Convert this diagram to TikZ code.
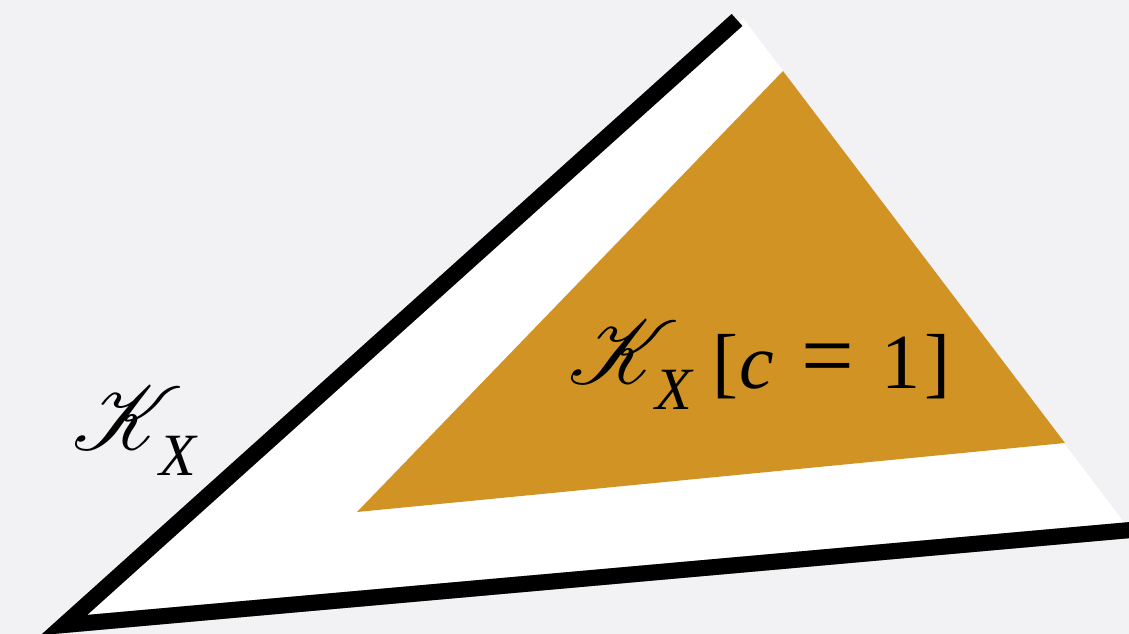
\documentclass[tikz,border=0pt]{standalone}
\usepackage{fontspec}
\setmainfont{Liberation Serif}
\usepackage{graphicx}
\usepackage{mathrsfs}
\definecolor{bgcol}{HTML}{F2F2F4}
\definecolor{ochre}{HTML}{D19424}
\newcommand{\bigK}{\scalebox{9}{$\mathscr{K}$}}
\tikzset{
  glyph/.style={inner sep=0pt, outer sep=0pt, anchor=base, text=black},
  bigg/.style={glyph, font=\fontsize{78}{78}\selectfont},
  subg/.style={glyph, font=\fontsize{60}{60}\selectfont\itshape},
  edge/.style={line width=16pt, black, line join=miter, line cap=butt},
}
\begin{document}
\begin{tikzpicture}[x=1pt,y=-1pt]
\useasboundingbox (0,0) rectangle (1129,634);
\clip (0,0) rectangle (1129,634);
\fill[bgcol] (0,0) rectangle (1129,634);
% corners
\coordinate (A) at (64,625);
\coordinate (B) at (737,20);
\coordinate (Bw) at (743,18);
\coordinate (Cw) at (1135,537);
\coordinate (C) at (1170,526.5);
% white region
\fill[white] (A) -- (Bw) -- (Cw) -- cycle;
% soft shadow
\foreach \k in {1,...,14}{
  \draw[edge, opacity=0.03, shift={(0.4*\k,\k)}] (B) -- (A) -- (C);
}
% black edges
\draw[edge] (B) -- (A) -- (C);
% ochre triangle
\fill[ochre] (357,512) coordinate (P) -- (783,71) coordinate (Q) -- (1065,443) coordinate (R) -- cycle;
% label K_X
\node[glyph] (k1) at (128,449) {\bigK};
\node[subg] (x1) at (178,475) {X};
% label K_X[c=1]
\node[glyph] (k2) at (624,383) {\bigK};
\node[subg] (x2) at (674,409) {X};
\node[bigg] (lb) at (725,388) {[};
\node[bigg, font=\fontsize{78}{78}\selectfont\itshape] (cc) at (757,388) {c};
\node[bigg] (eq) at (828,388) {\scalebox{1.2}[1.25]{=}};
\node[bigg] (one) at (901,388) {1};
\node[bigg] (rb) at (937,388) {]};
\end{tikzpicture}
\end{document}
